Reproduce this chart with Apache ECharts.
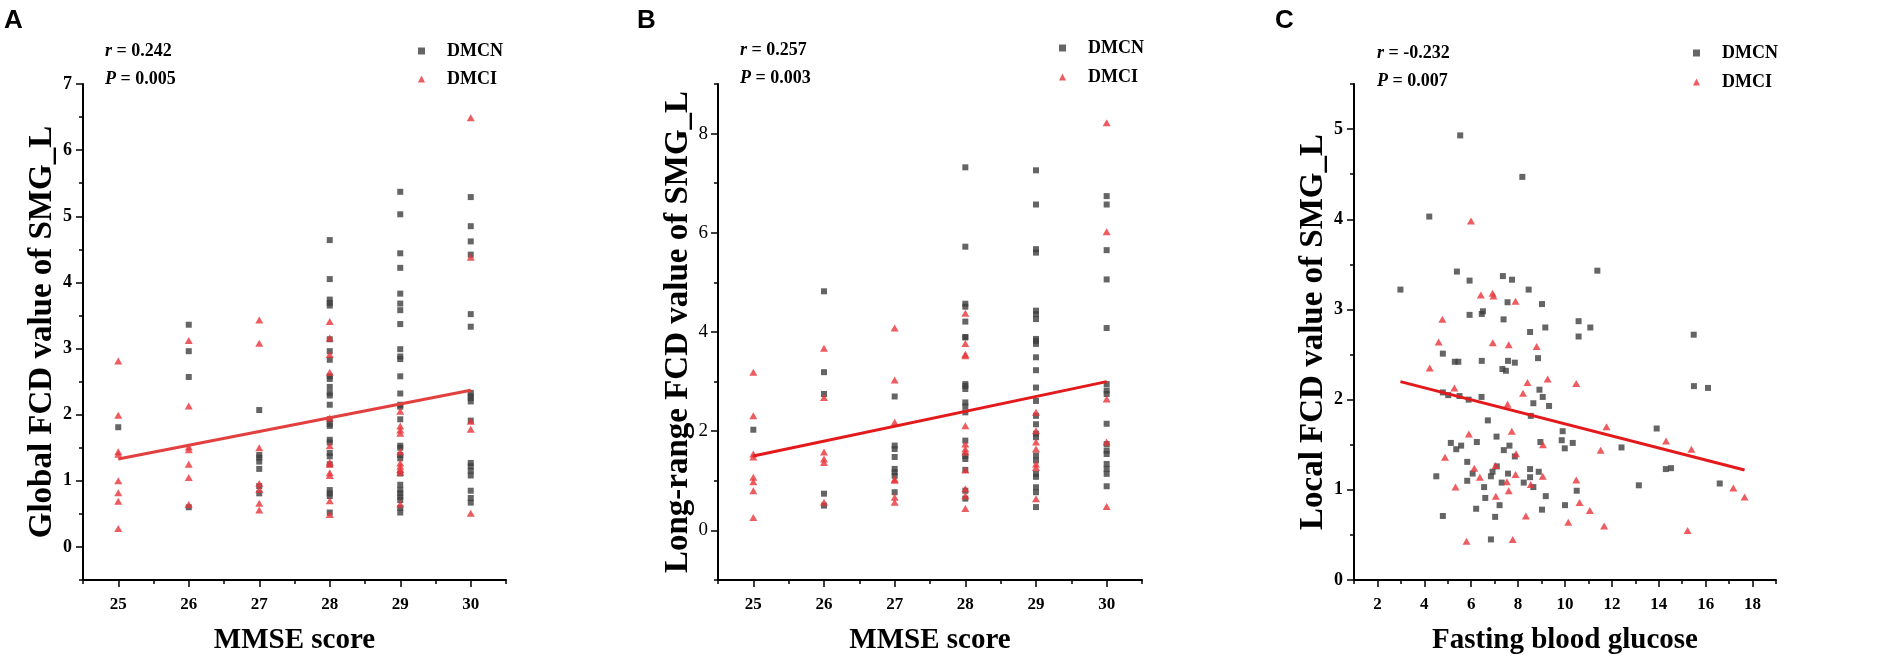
<!DOCTYPE html>
<html>
<head>
<meta charset="utf-8">
<title>FCD of SMG_L vs MMSE and fasting glucose</title>
<script src="https://cdn.jsdelivr.net/npm/echarts@6.0.0/dist/echarts.min.js"></script>
<style>
  html, body { margin: 0; padding: 0; background: #fff; }
  #chart { width: 1901px; height: 667px; }
</style>
</head>
<body>
<div id="chart"></div>
<script>
// MMSE columns, one y list per score
const mmseScores = [25, 26, 27, 28, 29, 30];

const globalDmcn = [
  [1.81],
  [3.36, 2.96, 2.57, 0.60],
  [2.07, 1.39, 1.35, 1.29, 1.18, 0.92, 0.81],
  [4.64, 4.05, 3.74, 3.69, 3.65, 3.14, 2.96, 2.83, 2.58, 2.54, 2.42, 2.33, 2.29, 2.15, 1.93, 1.86, 1.83, 1.62, 1.58, 1.42, 1.37, 1.25, 0.86, 0.81, 0.77, 0.52],
  [5.37, 5.03, 4.44, 4.22, 3.83, 3.68, 3.58, 3.37, 2.99, 2.88, 2.84, 2.58, 2.32, 2.15, 2.12, 1.93, 1.53, 1.50, 1.39, 1.34, 1.11, 0.94, 0.86, 0.81, 0.76, 0.71, 0.59, 0.52],
  [5.29, 4.85, 4.62, 4.42, 3.52, 3.33, 2.33, 2.28, 2.25, 2.20, 1.91, 1.27, 1.22, 1.15, 1.08, 0.85, 0.74, 0.67]
];
const globalDmci = [
  [2.81, 1.99, 1.44, 1.40, 1.00, 0.82, 0.69, 0.28],
  [3.12, 2.13, 1.51, 1.47, 1.25, 1.05, 0.64],
  [3.43, 3.08, 1.50, 0.96, 0.87, 0.66, 0.56],
  [3.41, 3.16, 2.91, 2.64, 1.95, 1.53, 1.28, 1.25, 1.12, 1.08, 0.70, 0.49],
  [2.05, 1.83, 1.77, 1.72, 1.44, 1.27, 1.22, 1.17, 1.13, 0.65],
  [6.49, 4.38, 1.90, 1.78, 0.51]
];
const globalFit = [[25, 1.33], [30, 2.37]];

const longDmcn = [
  [2.03],
  [4.82, 3.19, 2.75, 0.74, 0.50],
  [2.70, 1.71, 1.64, 1.48, 1.24, 1.17, 1.10, 0.77],
  [7.32, 5.72, 4.57, 4.51, 4.21, 3.90, 3.89, 2.95, 2.91, 2.85, 2.58, 2.50, 2.38, 1.81, 1.50, 1.44, 1.22, 0.80, 0.64],
  [7.26, 6.57, 5.67, 5.60, 4.43, 4.36, 4.26, 3.86, 3.82, 3.76, 3.49, 3.23, 2.88, 2.61, 2.31, 2.14, 1.95, 1.88, 1.51, 1.41, 1.14, 1.08, 0.87, 0.77, 0.47],
  [6.74, 6.57, 5.65, 5.06, 4.08, 2.95, 2.82, 2.75, 2.15, 1.74, 1.61, 1.54, 1.34, 1.24, 1.14, 0.89]
];
const longDmci = [
  [3.19, 2.31, 1.54, 1.48, 1.07, 0.98, 0.80, 0.26],
  [3.67, 2.68, 1.58, 1.44, 1.37, 0.57],
  [4.08, 3.03, 2.18, 1.03, 1.01, 0.67, 0.57],
  [4.38, 3.77, 3.55, 3.52, 2.11, 1.74, 1.64, 1.58, 1.22, 0.84, 0.70, 0.44],
  [2.38, 2.01, 1.78, 1.64, 1.34, 1.27, 0.64],
  [8.22, 6.02, 2.65, 1.78, 0.48]
];
const longFit = [[25, 1.50], [30, 3.00]];

// fasting blood glucose vs local FCD, [glucose, fcd]
const localDmcn = [
  [5.53, 4.93], [8.18, 4.47], [4.21, 4.03], [5.39, 3.42], [11.38, 3.43], [5.93, 3.32], [7.35, 3.37], [7.74, 3.33],
  [2.98, 3.22], [8.45, 3.22], [7.55, 3.08], [9.02, 3.06], [5.93, 2.94], [6.45, 2.95], [6.50, 2.98], [7.38, 2.89],
  [10.58, 2.87], [11.08, 2.80], [9.16, 2.80], [8.51, 2.75], [10.58, 2.70], [15.49, 2.72], [4.79, 2.51], [5.30, 2.42],
  [5.45, 2.42], [6.45, 2.43], [7.57, 2.43], [7.86, 2.41], [8.85, 2.46], [7.33, 2.34], [7.48, 2.32], [15.50, 2.15],
  [16.10, 2.13], [8.91, 2.11], [4.79, 2.08], [5.02, 2.05], [5.50, 2.04], [5.89, 2.00], [6.44, 2.03], [9.05, 2.03],
  [8.65, 1.96], [9.32, 1.93], [8.54, 1.82], [6.71, 1.77], [13.91, 1.68], [9.90, 1.65], [7.08, 1.59], [9.86, 1.55],
  [8.95, 1.53], [6.24, 1.53], [10.33, 1.52], [5.13, 1.52], [7.63, 1.49], [5.57, 1.49], [5.36, 1.45], [9.99, 1.46],
  [12.41, 1.47], [7.39, 1.44], [7.86, 1.37], [5.83, 1.31], [7.09, 1.26], [14.30, 1.23], [14.52, 1.24], [8.51, 1.23],
  [6.91, 1.20], [8.88, 1.20], [6.06, 1.18], [7.57, 1.18], [4.51, 1.15], [6.84, 1.15], [8.51, 1.14], [5.83, 1.10],
  [7.30, 1.08], [8.24, 1.08], [13.15, 1.05], [16.60, 1.07], [8.65, 1.03], [6.55, 1.03], [10.50, 0.99], [9.18, 0.93],
  [6.60, 0.91], [7.21, 0.83], [10.00, 0.83], [6.21, 0.79], [9.02, 0.78], [4.79, 0.71], [7.02, 0.70], [6.84, 0.45]
];
const localDmci = [
  [5.99, 3.98], [6.41, 3.16], [6.91, 3.18], [6.95, 3.15], [7.89, 3.09], [4.77, 2.89], [4.61, 2.64], [4.23, 2.35],
  [6.92, 2.63], [7.60, 2.61], [8.79, 2.59], [5.28, 2.13], [8.40, 2.19], [9.26, 2.23], [10.48, 2.18], [8.21, 2.07],
  [7.55, 1.95], [11.77, 1.70], [7.73, 1.65], [5.90, 1.62], [14.31, 1.54], [9.06, 1.50], [15.39, 1.45], [11.52, 1.44],
  [7.91, 1.40], [4.88, 1.36], [7.04, 1.27], [6.13, 1.24], [7.89, 1.17], [6.37, 1.14], [9.05, 1.15], [7.52, 1.09],
  [10.48, 1.11], [8.54, 1.06], [5.33, 1.03], [17.18, 1.02], [7.60, 0.99], [17.66, 0.92], [7.05, 0.93], [10.62, 0.86],
  [11.06, 0.77], [8.33, 0.71], [10.14, 0.64], [11.67, 0.60], [15.23, 0.55], [7.77, 0.45], [5.80, 0.43]
];
const localFit = [[2.98, 2.20], [17.66, 1.22]];

// tick labels (major ticks) and minor tick positions
const mmseTicks = [25, 26, 27, 28, 29, 30];
const mmseMinor = [24.5, 25.5, 26.5, 27.5, 28.5, 29.5, 30.5];
const glucoseTicks = [2, 4, 6, 8, 10, 12, 14, 16, 18];
const glucoseMinor = [1, 3, 5, 7, 9, 11, 13, 15, 17, 19];
const globalTicks = [0, 1, 2, 3, 4, 5, 6, 7];
const globalMinor = [-0.5, 0.5, 1.5, 2.5, 3.5, 4.5, 5.5, 6.5];
const longTicks = [0, 2, 4, 6, 8];
const longMinor = [-1, 1, 3, 5, 7, 9];
const localTicks = [0, 1, 2, 3, 4, 5];
const localMinor = [0.5, 1.5, 2.5, 3.5, 4.5, 5.5];

const panelLetters = ['A', 'B', 'C'];
const rValues = ['0.242', '0.257', '-0.232'];
const pValues = ['0.005', '0.003', '0.007'];
const xNames = ['MMSE score', 'MMSE score', 'Fasting blood glucose'];
const yNames = ['Global FCD value of SMG_L', 'Long-range FCD value of SMG_L', 'Local FCD value of SMG_L'];

const SERIF = '"Liberation Serif", "Times New Roman", serif';
const GRAY = '#3f3f3f';
const RED = '#e8333a';

// grid boxes in px
const grids = [
  { left: 83, top: 84, width: 423, height: 496 },
  { left: 718, top: 84, width: 424, height: 496 },
  { left: 1354, top: 84, width: 422, height: 496 }
];

const xSpec = [
  { min: 24.5, max: 30.5, ticks: mmseTicks, minor: mmseMinor },
  { min: 24.5, max: 30.5, ticks: mmseTicks, minor: mmseMinor },
  { min: 1, max: 19, ticks: glucoseTicks, minor: glucoseMinor }
];
const ySpec = [
  { min: -0.5, max: 7, ticks: globalTicks, minor: globalMinor, weight: 'bold', size: 18, margin: 11 },
  { min: -1, max: 9, ticks: longTicks, minor: longMinor, weight: 'normal', size: 19, margin: 10 },
  { min: 0, max: 5.5, ticks: localTicks, minor: localMinor, weight: 'bold', size: 18, margin: 11 }
];

function columnsToPoints(xs, cols) {
  const pts = [];
  cols.forEach((ys, i) => ys.forEach(y => pts.push([xs[i], y])));
  return pts;
}

function majorAxis(i, spec, pos, label, name, nameGap, nameSize) {
  return {
    type: 'value', gridIndex: i, position: pos, min: spec.min, max: spec.max,
    splitLine: { show: false },
    axisLine: { show: true, onZero: false, lineStyle: { color: '#000', width: 2 } },
    axisTick: { show: true, length: 7, customValues: spec.ticks, lineStyle: { color: '#000', width: 1.5 } },
    axisLabel: Object.assign({ customValues: spec.ticks, fontFamily: SERIF, color: '#000' }, label),
    name: name, nameLocation: 'middle', nameGap: nameGap,
    nameRotate: pos === 'left' ? 90 : 0,
    nameTextStyle: { fontFamily: SERIF, fontWeight: 'bold', fontSize: nameSize, color: '#000' }
  };
}

function minorAxis(i, spec, pos) {
  return {
    type: 'value', gridIndex: i, position: pos, min: spec.min, max: spec.max,
    splitLine: { show: false },
    axisLine: { show: false, onZero: false },
    axisTick: { show: true, length: 4, customValues: spec.minor, lineStyle: { color: '#000', width: 1.5 } },
    axisLabel: { show: false }
  };
}

const xAxes = [];
const yAxes = [];
[0, 1, 2].forEach(i => {
  xAxes.push(majorAxis(i, xSpec[i], 'bottom',
    { margin: 16, fontWeight: 'bold', fontSize: 17 }, xNames[i], 46, 29));
  yAxes.push(majorAxis(i, ySpec[i], 'left',
    { margin: ySpec[i].margin, fontWeight: ySpec[i].weight, fontSize: ySpec[i].size }, yNames[i], 22, 33));
});
[0, 1, 2].forEach(i => {
  xAxes.push(minorAxis(i, xSpec[i], 'bottom'));
  yAxes.push(minorAxis(i, ySpec[i], 'left'));
});

const panelData = [
  { dmcn: columnsToPoints(mmseScores, globalDmcn), dmci: columnsToPoints(mmseScores, globalDmci), fit: globalFit, fitColor: '#e23f3f' },
  { dmcn: columnsToPoints(mmseScores, longDmcn), dmci: columnsToPoints(mmseScores, longDmci), fit: longFit, fitColor: '#e31a1c' },
  { dmcn: localDmcn, dmci: localDmci, fit: localFit, fitColor: '#e31a1c' }
];

const series = [];
panelData.forEach((p, i) => {
  series.push({
    name: 'DMCN', type: 'scatter', xAxisIndex: i, yAxisIndex: i, data: p.dmcn,
    symbol: 'rect', symbolSize: 6, itemStyle: { color: GRAY }, z: 2
  });
  series.push({
    name: 'DMCI', type: 'scatter', xAxisIndex: i, yAxisIndex: i, data: p.dmci,
    symbol: 'triangle', symbolSize: [8, 7], itemStyle: { color: RED }, z: 3
  });
  series.push({
    name: 'fit' + i, type: 'line', xAxisIndex: i, yAxisIndex: i, data: p.fit,
    symbol: 'none', lineStyle: { color: p.fitColor, width: 3 }, z: 4, silent: true
  });
});

const legendPos = [
  { left: 418, top: 42, itemGap: 10 },
  { left: 1059, top: 39, itemGap: 11 },
  { left: 1693, top: 44, itemGap: 11 }
];
const legends = legendPos.map(pos => ({
  left: pos.left, top: pos.top, orient: 'vertical', padding: 0, itemGap: pos.itemGap,
  itemWidth: 7, itemHeight: 7, selectedMode: false,
  data: [
    { name: 'DMCN', icon: 'rect', itemStyle: { color: GRAY } },
    { name: 'DMCI', icon: 'triangle', itemStyle: { color: RED } }
  ],
  textStyle: { fontFamily: SERIF, fontWeight: 'bold', fontSize: 18, color: '#000', lineHeight: 18, padding: [0, 0, 0, 17] }
}));

const titles = panelLetters.map((t, i) => ({
  text: t, left: [4, 637, 1275][i], top: 8, padding: 0,
  textStyle: { fontFamily: '"Liberation Sans", Arial, sans-serif', fontWeight: 'bold', fontSize: 26, color: '#000' }
}));

const statPos = [[105, 51], [740, 50], [1377, 53]];
const richStat = {
  i: { fontFamily: SERIF, fontWeight: 'bold', fontStyle: 'italic', fontSize: 18, fill: '#000', color: '#000' },
  n: { fontFamily: SERIF, fontWeight: 'bold', fontSize: 18, fill: '#000', color: '#000' }
};
const graphics = [];
statPos.forEach((pos, i) => {
  graphics.push({ type: 'text', x: pos[0], y: pos[1],
    style: { text: '{i|r}{n| = ' + rValues[i] + '}', rich: richStat, verticalAlign: 'middle' } });
  graphics.push({ type: 'text', x: pos[0], y: pos[1] + 28,
    style: { text: '{i|P}{n| = ' + pValues[i] + '}', rich: richStat, verticalAlign: 'middle' } });
});

const chart = echarts.init(document.getElementById('chart'), null, { renderer: 'canvas' });
chart.setOption({
  animation: false,
  backgroundColor: '#fff',
  title: titles,
  legend: legends,
  grid: grids,
  xAxis: xAxes,
  yAxis: yAxes,
  series: series,
  graphic: graphics
});
window.onresize = chart.resize;
</script>
</body>
</html>
